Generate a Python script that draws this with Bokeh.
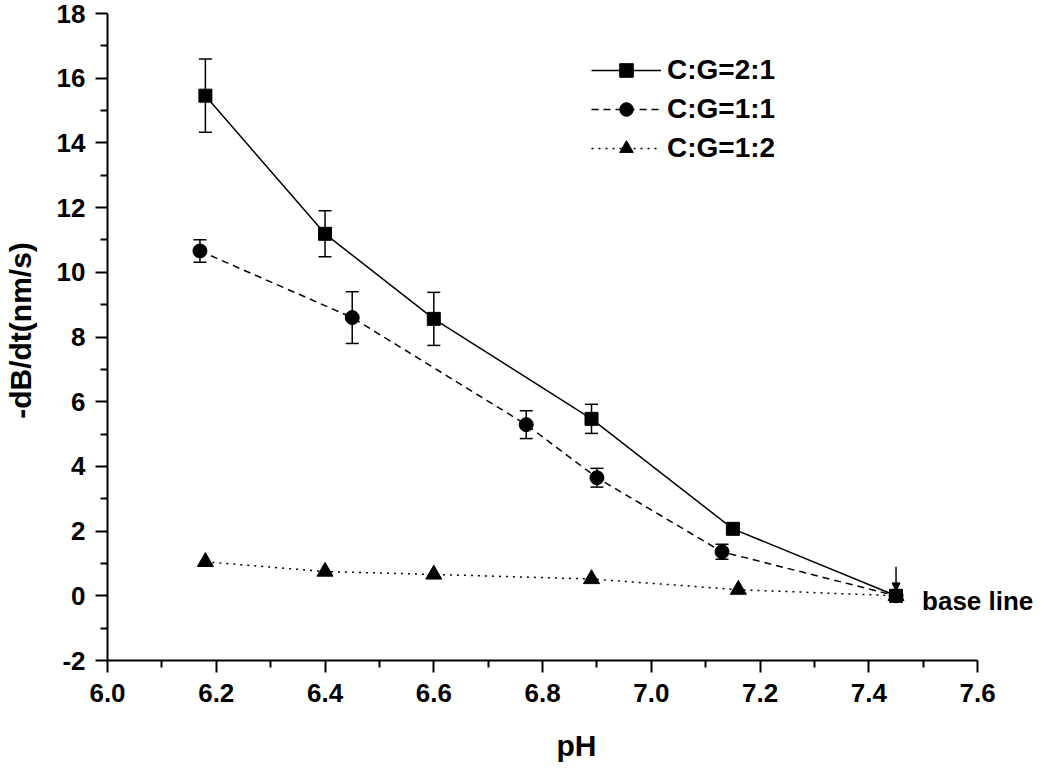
from bokeh.plotting import figure
from bokeh.models import (Range1d, FixedTicker, PrintfTickFormatter, Whisker, TeeHead,
                          ColumnDataSource, Legend, LegendItem, Label, Arrow, NormalHead)
from bokeh.embed import file_html
from bokeh.resources import INLINE

# ---- data ----
ph_21 = [6.18, 6.40, 6.60, 6.89, 7.15, 7.45]
v_21 = [15.46, 11.19, 8.56, 5.47, 2.07, 0.0]
e_21 = [1.13, 0.71, 0.82, 0.45, 0.0, 0.0]

ph_11 = [6.17, 6.45, 6.77, 6.90, 7.13, 7.45]
v_11 = [10.66, 8.60, 5.29, 3.65, 1.36, 0.0]
e_11 = [0.35, 0.80, 0.43, 0.29, 0.23, 0.0]

ph_12 = [6.18, 6.40, 6.60, 6.89, 7.16, 7.45]
v_12 = [1.05, 0.75, 0.66, 0.52, 0.19, 0.0]

labels = ["C:G=2:1", "C:G=1:1", "C:G=1:2"]

x_ticks = [6.0, 6.2, 6.4, 6.6, 6.8, 7.0, 7.2, 7.4, 7.6]
x_minor = [6.1, 6.3, 6.5, 6.7, 6.9, 7.1, 7.3, 7.5]
y_ticks = [-2, 0, 2, 4, 6, 8, 10, 12, 14, 16, 18]
y_minor = [-1, 1, 3, 5, 7, 9, 11, 13, 15, 17]

base_x = 7.45
base_y = 0.0

FONT = "Liberation Sans"

W, H = 1045, 765
LEFT, BOTTOM = 106, 105
px_per_x = 544.4   # pixels per pH unit
px_per_y = 32.35   # pixels per y unit
x_end = 6.0 + (W - LEFT) / px_per_x
y_end = 18 + 13 / px_per_y

p = figure(width=W, height=H, output_backend="svg", toolbar_location=None,
           x_range=Range1d(6.0, x_end), y_range=Range1d(-2, y_end),
           min_border_left=LEFT, min_border_right=0, min_border_top=0,
           min_border_bottom=BOTTOM)
p.outline_line_color = None
p.xgrid.visible = False
p.ygrid.visible = False
p.background_fill_color = "white"
p.border_fill_color = "white"

for ax in (p.xaxis[0], p.yaxis[0]):
    ax.axis_line_width = 2
    ax.axis_line_color = "black"
    ax.major_tick_line_width = 2
    ax.minor_tick_line_width = 2
    ax.major_tick_out = 12
    ax.major_tick_in = 0
    ax.minor_tick_out = 7
    ax.minor_tick_in = 0
    ax.major_label_text_font = FONT
    ax.major_label_text_font_style = "bold"
    ax.major_label_text_font_size = "26px"
    ax.major_label_text_color = "black"
    ax.axis_label_text_font = FONT
    ax.axis_label_text_font_style = "bold"
    ax.axis_label_text_font_size = "30px"
    ax.axis_label_text_color = "black"

p.xaxis.bounds = (6.0, 7.6)
p.yaxis.bounds = (-2, 18)
p.xaxis.ticker = FixedTicker(ticks=x_ticks, minor_ticks=x_minor)
p.yaxis.ticker = FixedTicker(ticks=y_ticks, minor_ticks=y_minor)
p.xaxis.formatter = PrintfTickFormatter(format="%.1f")
p.yaxis.formatter = PrintfTickFormatter(format="%d")
p.xaxis.major_label_standoff = 11
p.yaxis.major_label_standoff = 10
p.xaxis.axis_label = "pH"
p.yaxis.axis_label = "-dB/dt(nm/s)"
p.xaxis.axis_label_standoff = 24
p.yaxis.axis_label_standoff = 17

# error bars
for xs, ys, es in ((ph_21, v_21, e_21), (ph_11, v_11, e_11)):
    src = ColumnDataSource(dict(x=xs, up=[y + e for y, e in zip(ys, es)],
                                lo=[y - e for y, e in zip(ys, es)]))
    w = Whisker(base="x", upper="up", lower="lo", source=src, dimension="height",
                line_width=1.5, line_color="black",
                upper_head=TeeHead(size=13, line_width=1.5, line_color="black"),
                lower_head=TeeHead(size=13, line_width=1.5, line_color="black"))
    p.add_layout(w)

l1 = p.line(ph_21, v_21, line_color="black", line_width=1.5)
s1 = p.scatter(ph_21, v_21, marker="square", size=13, fill_color="black", line_color="black")
l2 = p.line(ph_11, v_11, line_color="black", line_width=1.5, line_dash="7 5")
s2 = p.scatter(ph_11, v_11, marker="circle", size=14, fill_color="black", line_color="black")
l3 = p.line(ph_12, v_12, line_color="black", line_width=1.5, line_dash="2 5")
s3 = p.scatter(ph_12, v_12, marker="triangle", size=16, fill_color="black", line_color="black")

legend = Legend(items=[LegendItem(label=labels[0], renderers=[l1, s1]),
                       LegendItem(label=labels[1], renderers=[l2, s2]),
                       LegendItem(label=labels[2], renderers=[l3, s3])],
                location=(484, 495), glyph_width=70, glyph_height=34, label_height=32,
                spacing=5, padding=0, margin=0, border_line_color=None,
                background_fill_alpha=0, label_text_font=FONT, label_text_font_style="bold",
                label_text_font_size="28px", label_text_color="black", label_standoff=6)
p.add_layout(legend)

p.add_layout(Arrow(end=NormalHead(size=8, fill_color="black", line_color="black"),
                   x_start=base_x, y_start=base_y + 0.9, x_end=base_x, y_end=base_y + 0.15,
                   line_width=1.5, line_color="black"))
p.add_layout(Label(x=base_x, y=base_y, text="base line", x_offset=26, y_offset=-5,
                   text_baseline="middle", text_font=FONT, text_font_style="bold",
                   text_font_size="26px", text_color="black"))

open("out.html", "w").write(file_html(p, INLINE))
